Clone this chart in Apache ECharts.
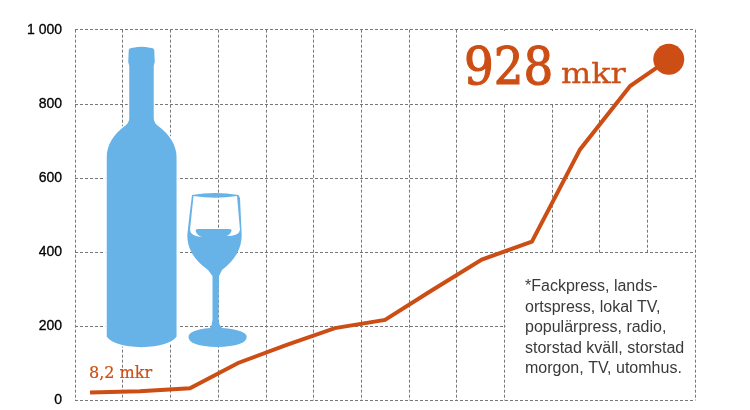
<!DOCTYPE html>
<html>
<head>
<meta charset="utf-8">
<style>html,body{margin:0;padding:0;background:#fff}#c{width:750px;height:410px}</style>
<script src="https://cdn.jsdelivr.net/npm/echarts@6/dist/echarts.min.js"></script>
</head>
<body>
<div id="c"></div>
<script>
const periods = [0.315, 1.36, 2.41, 3.42, 4.44, 5.45, 6.5, 7.46, 8.53, 9.58, 10.59, 11.64, 12.45];
const values  = [21, 25, 33, 101, 150, 195, 217, 295, 380, 428, 677, 848, 920];
const yTicks = { 0: '0', 200: '200', 400: '400', 600: '600', 800: '800', 1000: '1 000' };
const startLabel = '8,2 mkr';
const endValue = '928';
const endUnit = 'mkr';
const noteLines = ['*Fackpress, lands-', 'ortspress, lokal TV,', 'populärpress, radio,', 'storstad kväll, storstad', 'morgon, TV, utomhus.'];

const ORANGE = '#CC4E14', BLUE = '#67B3E8';
const SLAB = '"DejaVu Serif"';
const bottle = 'M128 50 Q128 47.5 133 47 Q141.5 45 150 47 Q155 47.5 155 50 L155.5 62 L154.5 66 L154.5 118 Q154.5 122 158 125 Q177 139 177.3 157 L177.3 337 Q170 347 141.5 348 Q113 347 106 337 L106 157 Q106 139 125 125 Q128.5 122 128.5 118 L128.5 66 L127.5 62 Z';
const glass = 'M192 195 Q215 191 238.5 195 L240 198 L241.7 235 Q241.7 255 222 270 L219 276 L218.5 320 Q219 325 222 328 Q246.7 330 246.7 337 Q246.7 346 217 347 Q188.5 346 188.5 337 Q188.5 330 210 328 Q212 325 212.5 320 L212.5 276 L208 270 Q187 255 187.3 235 L189.5 215 Z ' +
  'M193.5 196 L190 230 Q190.5 236 202 237 Q197 235 195.8 231.5 Q195 229 198 229 L229 229 Q232 229 231.5 231 Q230 235 226.5 236 Q239 236 240 230 L237 196 Q215 199.5 193.5 196 Z';

const chart = echarts.init(document.getElementById('c'));
const dash = { color: '#777', width: 1, type: [3, 2] };
chart.setOption({
  animation: false,
  backgroundColor: '#fff',
  grid: { left: 75, top: 29.7, width: 620, height: 370.7, containLabel: false },
  xAxis: {
    type: 'value', min: 0, max: 13, interval: 1,
    axisLine: { show: false }, axisTick: { show: false }, axisLabel: { show: false },
    splitLine: { show: true, lineStyle: dash }
  },
  yAxis: {
    type: 'value', min: 0, max: 1000, interval: 200,
    axisLine: { show: false }, axisTick: { show: false },
    axisLabel: {
      margin: 13, color: '#000', fontFamily: '"Liberation Sans",Arial,sans-serif', fontSize: 14,
      textBorderColor: '#000', textBorderWidth: 0.3,
      formatter: v => yTicks[v]
    },
    splitLine: { show: true, lineStyle: dash }
  },
  series: [{
    type: 'custom', z: 2, coordinateSystem: 'none', silent: true, data: [0],
    renderItem: () => ({
      type: 'group',
      children: [
        { type: 'path', shape: { pathData: bottle }, style: { fill: BLUE, stroke: '#fff', lineWidth: 1.5 } },
        { type: 'path', shape: { pathData: glass }, style: { fill: BLUE } }
      ]
    })
  }, {
    type: 'line', z: 5,
    data: periods.map((p, i) => i === periods.length - 1
      ? { value: [p, values[i]], symbol: 'circle', symbolSize: 31 }
      : { value: [p, values[i]], symbol: 'none' }),
    showSymbol: true,
    lineStyle: { color: ORANGE, width: 4, cap: 'butt', join: 'miter' },
    itemStyle: { color: ORANGE }
  }],
  graphic: [
    { type: 'rect', z: 1, silent: true, shape: { x: 458.5, y: 31, width: 236, height: 72.5 }, style: { fill: '#fff' } },
    { type: 'rect', z: 1, silent: true, shape: { x: 505.5, y: 253, width: 189, height: 147 }, style: { fill: '#fff' } },
    { type: 'text', z: 6, silent: true, x: 89, y: 382, style: { text: startLabel, fill: ORANGE, stroke: ORANGE, lineWidth: 0.2, font: '16px ' + SLAB, textVerticalAlign: 'bottom' } },
    { type: 'text', z: 6, silent: true, x: 464, y: 96, scaleX: 0.9, style: { text: endValue, fill: ORANGE, stroke: ORANGE, lineWidth: 1.2, font: '52px ' + SLAB, textVerticalAlign: 'bottom' } },
    { type: 'text', z: 6, silent: true, x: 561, y: 90, scaleX: 1.14, style: { text: endUnit, fill: ORANGE, stroke: ORANGE, lineWidth: 0.3, font: '28px ' + SLAB, textVerticalAlign: 'bottom' } },
    ...noteLines.map((t, i) => ({ type: 'text', z: 6, silent: true, x: 525, y: 286.5 + i * 20.6,
      style: { text: t, fill: '#3a3a3a', font: '16px "Liberation Sans",Arial,sans-serif', textVerticalAlign: 'middle' } }))
  ]
});
</script>
</body>
</html>
